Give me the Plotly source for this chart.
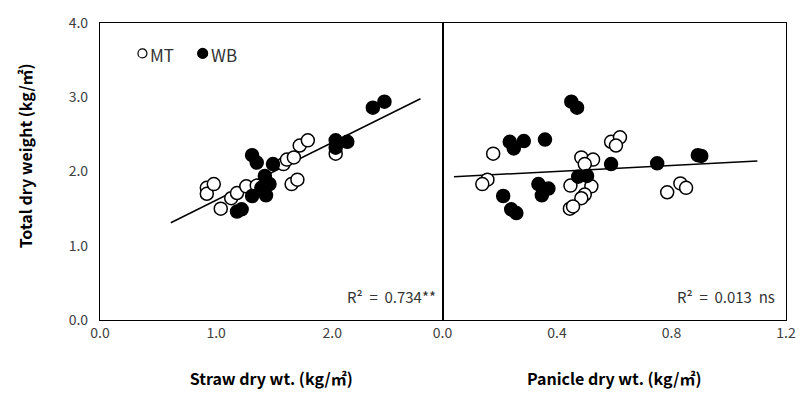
import plotly.graph_objects as go

# ---- data ----
# Left panel: straw dry wt. vs total dry weight
mt_straw = [0.92, 0.92, 0.98, 1.04, 1.13, 1.18, 1.26, 1.35, 1.58, 1.61, 1.67, 1.65, 1.70, 1.72, 1.79, 2.03]
mt_total_s = [1.78, 1.70, 1.83, 1.50, 1.64, 1.71, 1.80, 1.81, 2.10, 2.16, 2.19, 1.83, 1.89, 2.35, 2.42, 2.24]
wb_straw = [1.31, 1.35, 1.49, 1.42, 1.46, 1.39, 1.31, 1.43, 1.18, 1.22, 2.03, 2.03, 2.13, 2.35, 2.45]
wb_total_s = [2.22, 2.12, 2.10, 1.94, 1.83, 1.78, 1.67, 1.68, 1.46, 1.49, 2.42, 2.32, 2.40, 2.86, 2.94]

# Right panel: panicle dry wt. vs total dry weight
mt_panicle = [0.177, 0.157, 0.139, 0.485, 0.526, 0.497, 0.589, 0.620, 0.606, 0.447, 0.520, 0.497, 0.485, 0.445, 0.456, 0.785, 0.831, 0.851]
mt_total_p = [2.24, 1.89, 1.83, 2.19, 2.16, 2.10, 2.40, 2.46, 2.35, 1.81, 1.80, 1.69, 1.64, 1.50, 1.53, 1.72, 1.84, 1.78]
wb_panicle = [0.450, 0.470, 0.235, 0.249, 0.284, 0.358, 0.589, 0.750, 0.892, 0.904, 0.474, 0.505, 0.335, 0.370, 0.347, 0.212, 0.240, 0.258]
wb_total_p = [2.94, 2.86, 2.40, 2.31, 2.41, 2.43, 2.10, 2.11, 2.22, 2.21, 1.93, 1.94, 1.83, 1.77, 1.68, 1.67, 1.49, 1.44]

# Trend lines (end points)
straw_line_x = [0.61, 2.76]
straw_line_y = [1.31, 2.98]
panicle_line_x = [0.04, 1.10]
panicle_line_y = [1.93, 2.14]

r2_straw = "R²\u00a0\u00a0=\u00a0\u00a00.734**"
r2_panicle = "R²\u00a0\u00a0=\u00a0\u00a00.013\u00a0\u00a0ns"

x1_ticks = [0, 1, 2]
x1_labels = ["0.0", "1.0", "2.0"]
x2_ticks = [0, 0.4, 0.8, 1.2]
x2_labels = ["0.0", "0.4", "0.8", "1.2"]
y_ticks = [0, 1, 2, 3, 4]
y_labels = ["0.0", "1.0", "2.0", "3.0", "4.0"]

FONT = "Noto Sans CJK KR"
TICKCOL = "#404040"

open_marker = dict(symbol="circle", size=13, color="white", line=dict(color="black", width=1.5))
fill_marker = dict(symbol="circle", size=13, color="black", line=dict(color="black", width=1.5))

fig = go.Figure()
# left panel
fig.add_trace(go.Scatter(x=straw_line_x, y=straw_line_y, mode="lines", line=dict(color="black", width=1.5),
                         xaxis="x", yaxis="y", showlegend=False, hoverinfo="skip"))
fig.add_trace(go.Scatter(x=mt_straw, y=mt_total_s, mode="markers", marker=open_marker, name="MT",
                         xaxis="x", yaxis="y", showlegend=False))
fig.add_trace(go.Scatter(x=wb_straw, y=wb_total_s, mode="markers", marker=fill_marker, name="WB",
                         xaxis="x", yaxis="y", showlegend=False))
# right panel
fig.add_trace(go.Scatter(x=panicle_line_x, y=panicle_line_y, mode="lines", line=dict(color="black", width=1.5),
                         xaxis="x2", yaxis="y2", showlegend=False, hoverinfo="skip"))
fig.add_trace(go.Scatter(x=mt_panicle, y=mt_total_p, mode="markers", marker=open_marker, name="MT",
                         xaxis="x2", yaxis="y2", showlegend=False))
fig.add_trace(go.Scatter(x=wb_panicle, y=wb_total_p, mode="markers", marker=fill_marker, name="WB",
                         xaxis="x2", yaxis="y2", showlegend=False))

split = 347 / 695
axis_common = dict(showline=True, linecolor="black", linewidth=1.2, mirror=True, showgrid=False,
                   zeroline=False, ticks="", tickfont=dict(family=FONT, size=14, color=TICKCOL))

fig.update_layout(
    width=808, height=397,
    margin=dict(l=100, r=13, t=17, b=77),
    paper_bgcolor="white", plot_bgcolor="white",
    xaxis=dict(domain=[0, split], range=[0, 2.95], tickvals=x1_ticks, ticktext=x1_labels, anchor="y",
               title=dict(text="<b>Straw dry wt. (kg/㎡)</b>", font=dict(family=FONT, size=16, color="black"), standoff=32),
               **axis_common),
    xaxis2=dict(domain=[split, 1], range=[0, 1.2], tickvals=x2_ticks, ticktext=x2_labels, anchor="y2",
                title=dict(text="<b>Panicle dry wt. (kg/㎡)</b>", font=dict(family=FONT, size=16, color="black"), standoff=32),
                **axis_common),
    yaxis=dict(range=[0, 4], tickvals=y_ticks, ticktext=y_labels, anchor="x", ticklabelstandoff=8,
               **axis_common),
    yaxis2=dict(range=[0, 4], tickvals=y_ticks, anchor="x2", matches="y", showticklabels=False,
                **axis_common),
    showlegend=False,
)

# helpers: pixel -> paper
def px(x):
    return (x - 100) / 695

def py(y):
    return (320 - y) / 303

# y-axis title
fig.add_annotation(x=px(24), y=py(152), xref="paper", yref="paper", text="<b>Total dry weight (kg/㎡)</b>",
                   textangle=-90, showarrow=False, xanchor="center", yanchor="middle",
                   font=dict(family=FONT, size=16, color="black"))

# legend drawn as shapes + text inside the left panel
fig.add_shape(type="circle", xref="paper", yref="paper", xsizemode="pixel", ysizemode="pixel",
              xanchor=px(143), yanchor=py(48), x0=-4.5, x1=4.5, y0=-4.5, y1=4.5,
              line=dict(color="black", width=1.2), fillcolor="white")
fig.add_shape(type="circle", xref="paper", yref="paper", xsizemode="pixel", ysizemode="pixel",
              xanchor=px(204), yanchor=py(48), x0=-5, x1=5, y0=-5, y1=5,
              line=dict(color="black", width=1.2), fillcolor="black")
fig.add_annotation(x=px(149), y=py(49), xref="paper", yref="paper", text="MT", showarrow=False,
                   xanchor="left", yanchor="middle", font=dict(family=FONT, size=17, color="#333333"))
fig.add_annotation(x=px(210), y=py(49), xref="paper", yref="paper", text="WB", showarrow=False,
                   xanchor="left", yanchor="middle", font=dict(family=FONT, size=17, color="#333333"))

fig.add_annotation(x=px(442), y=py(296), xref="paper", yref="paper", text=r2_straw, showarrow=False,
                   xanchor="right", yanchor="middle", font=dict(family=FONT, size=15, color="#333333"))
fig.add_annotation(x=px(786), y=py(296), xref="paper", yref="paper", text=r2_panicle, showarrow=False,
                   xanchor="right", yanchor="middle", font=dict(family=FONT, size=15, color="#333333"))

fig.write_html("out.html")
